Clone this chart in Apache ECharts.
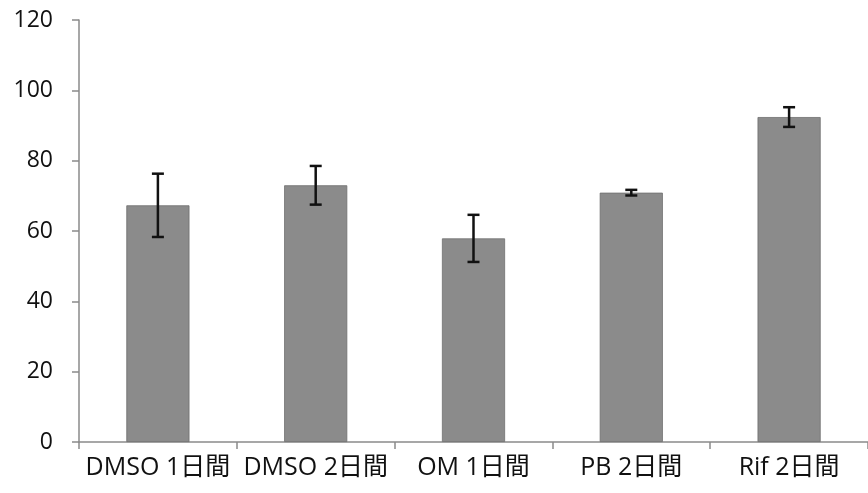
<!DOCTYPE html>
<html>
<head>
<meta charset="utf-8">
<script src="https://cdn.jsdelivr.net/npm/echarts@6/dist/echarts.min.js"></script>
<style>
  html, body { margin: 0; padding: 0; background: #fff; }
  #chart { width: 868px; height: 493px; }
</style>
</head>
<body>
<div id="chart"></div>
<script>
// Treatment groups, mean values and error (± SD)
const categories = ['DMSO 1日間', 'DMSO 2日間', 'OM 1日間', 'PB 2日間', 'Rif 2日間'];
const means = [67.3, 73.0, 57.9, 70.9, 92.4];
const errors = [9.0, 5.5, 6.7, 0.8, 2.8];
const yTicks = [0, 20, 40, 60, 80, 100, 120];

const font = '"Open Sans", "Noto Sans CJK JP", sans-serif';
const axisColor = '#8a8a8a';

const errorData = means.map((m, i) => [i, m - errors[i], m + errors[i]]);

const chart = echarts.init(document.getElementById('chart'), null, { renderer: 'canvas' });
chart.setOption({
  animation: false,
  backgroundColor: '#ffffff',
  grid: { left: 79, top: 20, width: 800, height: 422, containLabel: false },
  xAxis: {
    type: 'category',
    data: categories,
    axisLine: { lineStyle: { color: axisColor, width: 1.5 } },
    axisTick: { show: true, length: 7, alignWithLabel: false, lineStyle: { color: axisColor, width: 1.5 } },
    axisLabel: { color: '#111', fontFamily: font, fontSize: 25, margin: 13, interval: 0 }
  },
  yAxis: {
    type: 'value',
    min: yTicks[0],
    max: yTicks[yTicks.length - 1],
    interval: 20,
    splitLine: { show: false },
    axisLine: { show: true, lineStyle: { color: axisColor, width: 1.5 } },
    axisTick: { show: true, length: 7, lineStyle: { color: axisColor, width: 1.5 } },
    axisLabel: { color: '#111', fontFamily: font, fontSize: 23, margin: 26 }
  },
  series: [
    {
      type: 'bar',
      data: means,
      barWidth: '40%',
      itemStyle: { color: '#8b8b8b', borderColor: '#6e6e6e', borderWidth: 0.8 }
    },
    {
      type: 'custom',
      data: errorData,
      z: 10,
      renderItem: function (params, api) {
        const x = api.value(0);
        const lo = api.coord([x, api.value(1)]);
        const hi = api.coord([x, api.value(2)]);
        const half = 6;
        const style = { stroke: '#111', lineWidth: 2.5 };
        return {
          type: 'group',
          children: [
            { type: 'line', shape: { x1: lo[0], y1: lo[1], x2: hi[0], y2: hi[1] }, style: style },
            { type: 'line', shape: { x1: lo[0] - half, y1: lo[1], x2: lo[0] + half, y2: lo[1] }, style: style },
            { type: 'line', shape: { x1: hi[0] - half, y1: hi[1], x2: hi[0] + half, y2: hi[1] }, style: style }
          ]
        };
      }
    }
  ]
});
</script>
</body>
</html>
